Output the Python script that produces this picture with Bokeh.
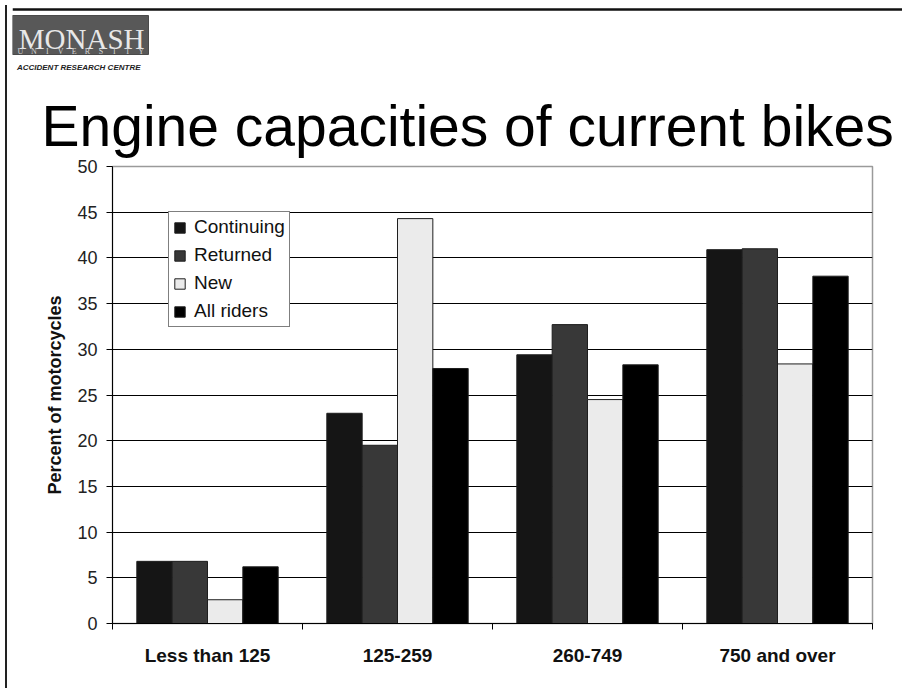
from bokeh.plotting import figure
from bokeh.models import Range1d, FixedTicker, Legend, LegendItem, ColumnDataSource, Div
from bokeh.layouts import column, row
from bokeh.transform import dodge
from bokeh.core.properties import value
from bokeh.embed import file_html
from bokeh.resources import INLINE

# ---------------- data ----------------
categories = ["Less than 125", "125-259", "260-749", "750 and over"]
series_names = ["Continuing", "Returned", "New", "All riders"]
continuing = [6.8, 23.0, 29.4, 40.9]
returned = [6.8, 19.5, 32.7, 41.0]
new = [2.6, 44.3, 24.5, 28.4]
all_riders = [6.2, 27.9, 28.3, 38.0]
y_ticks = [0, 5, 10, 15, 20, 25, 30, 35, 40, 45, 50]
title_text = "Engine capacities of current bikes"
y_label = "Percent of motorcycles"

FONT = "Liberation Sans"

# ---------------- header (logo + title) ----------------
W = 890
HH = 158
header = figure(width=W, height=HH, x_range=Range1d(0, W), y_range=Range1d(HH, 0),
                toolbar_location=None, output_backend="svg", min_border=0,
                x_axis_location=None, y_axis_location=None, outline_line_color=None)
header.grid.visible = False
header.frame_align = False

header.segment(x0=[0], y0=[9], x1=[W], y1=[9], line_width=2.5, line_color="#111111")
header.quad(left=[0], right=[136], top=[15], bottom=[54], fill_color="#585858", line_color="#4a4a4a")
header.text(x=[132], y=[38], text=["MONASH"], text_font=value("Liberation Serif"),
            text_font_size="29px", text_color="#e8e8e8", text_align="right",
            text_baseline="alphabetic")
uni = list("UNIVERSITY")
header.text(x=[8 + i * 13.4 for i in range(len(uni))], y=[51] * len(uni), text=uni,
            text_font=value("Liberation Serif"), text_font_size="8px", text_color="#d4d4d4",
            text_align="center", text_baseline="alphabetic")
header.text(x=[128], y=[67], text=["ACCIDENT RESEARCH CENTRE"], text_font=value(FONT),
            text_font_size="8px", text_font_style="bold italic", text_color="#222222",
            text_align="right", text_baseline="alphabetic")
header.text(x=[29], y=[125], text=[title_text], text_font=value(FONT),
            text_font_size="57px", text_color="#000000", text_align="left",
            text_baseline="alphabetic")

# ---------------- chart ----------------
n = len(categories)
centers = [i + 0.5 for i in range(n)]
src = ColumnDataSource(dict(x=centers, continuing=continuing, returned=returned,
                            new=new, all_riders=all_riders))

p = figure(width=W, height=525, x_range=Range1d(0, n), y_range=Range1d(0, 50),
           toolbar_location=None, output_backend="svg",
           min_border_left=100, min_border_right=30, min_border_top=8, min_border_bottom=60,
           background_fill_color="white", border_fill_color="white")
p.frame_align = False

p.outline_line_color = "#9a9a9a"
p.outline_line_width = 1.5

p.xgrid.visible = False
p.ygrid.ticker = FixedTicker(ticks=y_ticks[1:-1])
p.ygrid.grid_line_color = "#000000"
p.ygrid.grid_line_width = 1

# x axis: labels at centres, ticks at category boundaries (as minor ticks)
p.xaxis.ticker = FixedTicker(ticks=centers, minor_ticks=list(range(n + 1)))
p.xaxis.major_label_overrides = {c: cat for c, cat in zip(centers, categories)}
p.xaxis.major_tick_line_color = None
p.xaxis.major_tick_out = 0
p.xaxis.major_tick_in = 0
p.xaxis.minor_tick_line_color = "#000000"
p.xaxis.minor_tick_out = 6
p.xaxis.minor_tick_in = 0
p.xaxis.axis_line_color = "#000000"
p.xaxis.major_label_standoff = 15
p.xaxis.major_label_text_font = FONT
p.xaxis.major_label_text_font_size = "19px"
p.xaxis.major_label_text_font_style = "bold"
p.xaxis.major_label_text_color = "#111111"

p.yaxis.ticker = FixedTicker(ticks=y_ticks)
p.yaxis.major_tick_out = 6
p.yaxis.major_tick_in = 0
p.yaxis.major_tick_line_color = "#000000"
p.yaxis.minor_tick_line_color = None
p.yaxis.axis_line_color = "#000000"
p.yaxis.major_label_standoff = 9
p.yaxis.major_label_text_font = FONT
p.yaxis.major_label_text_font_size = "18px"
p.yaxis.major_label_text_color = "#222222"
p.yaxis.axis_label = y_label
p.yaxis.axis_label_text_font = FONT
p.yaxis.axis_label_text_font_size = "18px"
p.yaxis.axis_label_text_font_style = "bold"
p.yaxis.axis_label_text_color = "#111111"
p.yaxis.axis_label_standoff = 9

fields = ["continuing", "returned", "new", "all_riders"]
fills = ["#151515", "#383838", "#ebebeb", "#000000"]
offsets = [-0.279, -0.093, 0.093, 0.279]
items = []
for name, f, fill, off in zip(series_names, fields, fills, offsets):
    r = p.vbar(x=dodge("x", off, range=None), top=f, width=0.186, source=src,
               fill_color=fill, line_color="#1e1e1e", line_width=1)
    items.append(LegendItem(label=name, renderers=[r]))

legend = Legend(items=items, location=(56, 296), margin=0, padding=4, spacing=6,
                glyph_width=13, glyph_height=13, label_height=20, label_standoff=8,
                label_text_font=FONT, label_text_font_size="19px", label_text_color="#111111",
                border_line_color="#000000", border_line_width=1.5,
                background_fill_color="white", background_fill_alpha=1.0)
p.add_layout(legend)

left_line = Div(width=2, height=HH + 525, styles={"background-color": "#222222"})
layout = row(left_line, column(header, p))

open("out.html", "w").write(file_html(layout, INLINE))
